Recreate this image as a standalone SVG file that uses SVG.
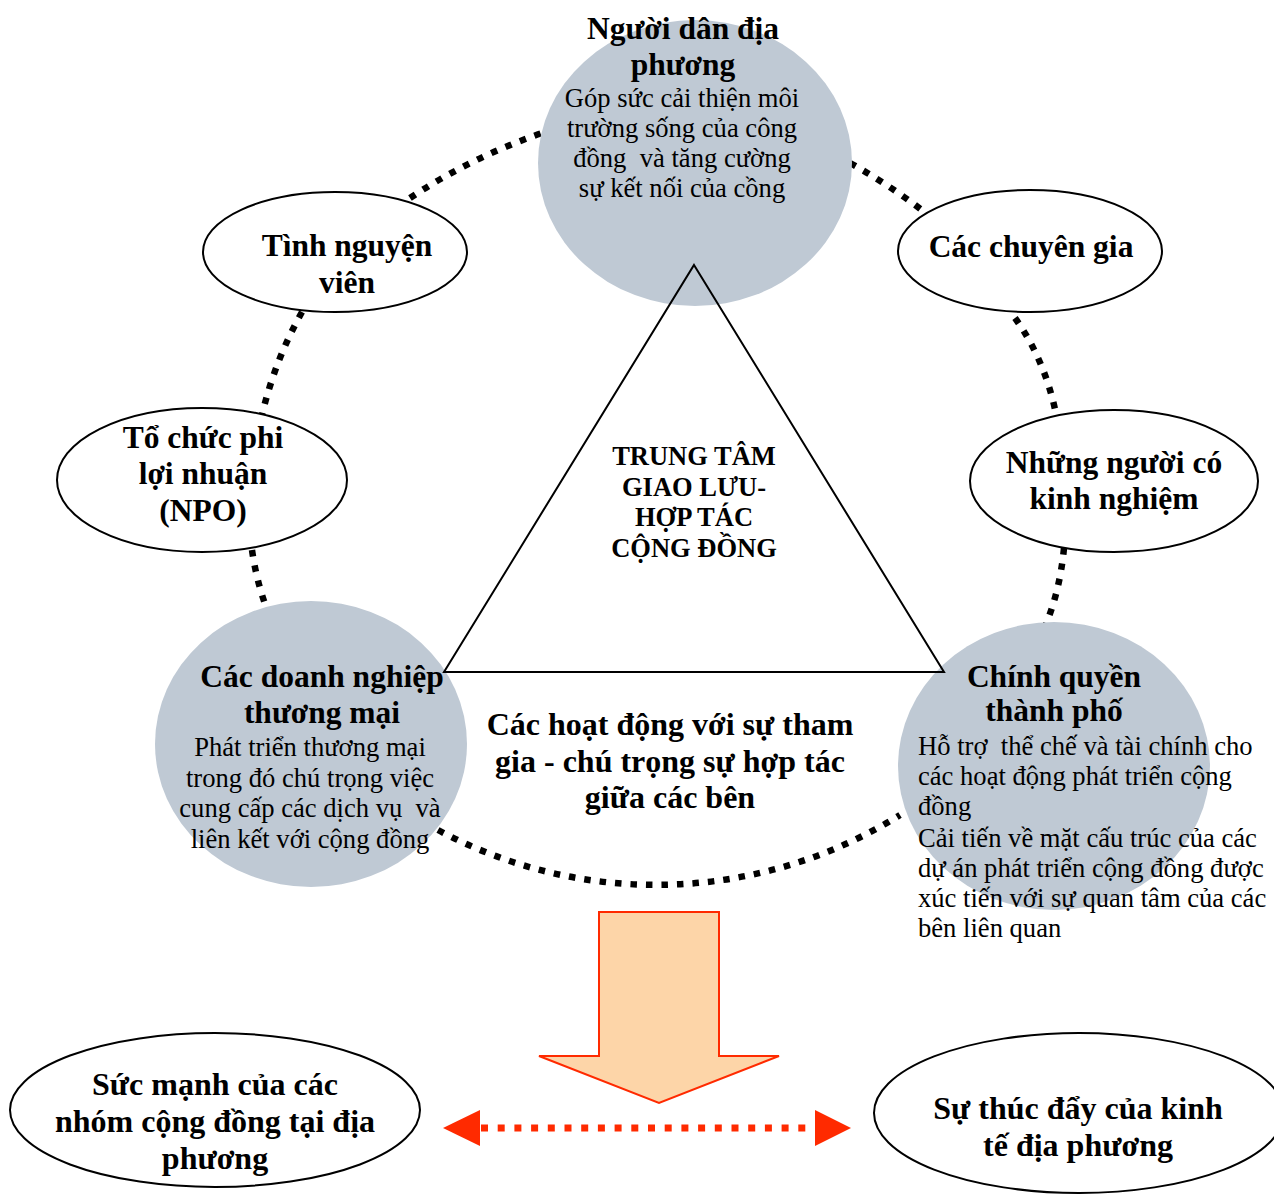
<svg xmlns="http://www.w3.org/2000/svg" width="1274" height="1196" viewBox="0 0 1274 1196">
<style>
text{font-family:"Liberation Serif","Times New Roman",serif;fill:#000;white-space:pre}
.t{font-size:31.5px;font-weight:bold;text-anchor:middle}
.h{font-size:32px}
.b{font-size:26.6px;text-anchor:middle}
.bl{font-size:26.6px}
.c{font-size:26.5px;font-weight:bold;text-anchor:middle}
.dot{fill:none;stroke:#000;stroke-width:6.5;stroke-dasharray:6.5 9}
.ell{fill:#fff;stroke:#000;stroke-width:2}
.gc{fill:#BFC9D4;stroke:none}
.red{fill:#FF2A00}
</style>
<rect width="1274" height="1196" fill="#fff"/>
<g id="connectors">
<path class="dot" d="M410,198 Q470,158 542,133"/>
<path class="dot" d="M850,163 Q888,184 923,211"/>
<path class="dot" d="M1015,318 Q1045,360 1056,414"/>
<path class="dot" d="M1064,548 Q1060,590 1046,624"/>
<path class="dot" d="M438,830 A461 461 0 0 0 900,815"/>
<path class="dot" d="M252,550 Q256,578 265,604"/>
<path class="dot" d="M302,312 Q275,360 262,415"/>
<path d="M481,1128 L814,1128" fill="none" stroke="#FF2A00" stroke-width="7" stroke-dasharray="7 9.7"/>
<polygon class="red" points="443,1128 480,1110 480,1146"/>
<polygon class="red" points="851,1128 815,1110 815,1146"/>
</g>
<g id="node-nguoidan">
<ellipse class="gc" cx="695" cy="163" rx="157" ry="143"/>
<text class="t" x="683" y="39">Người dân địa</text>
<text class="t" x="683" y="75">phương</text>
<text class="b" x="682" y="107">Góp sức cải thiện môi</text>
<text class="b" x="682" y="137">trường sống của công</text>
<text class="b" x="682" y="167">đồng  và tăng cường</text>
<text class="b" x="682" y="197">sự kết nối của cồng</text>
</g>
<g id="node-doanhnghiep">
<ellipse class="gc" cx="311" cy="744" rx="156" ry="143"/>
<text class="t" x="322" y="687">Các doanh nghiệp</text>
<text class="t" x="322" y="723">thương mại</text>
<text class="b" x="310" y="756">Phát triển thương mại</text>
<text class="b" x="310" y="787">trong đó chú trọng việc</text>
<text class="b" x="310" y="817">cung cấp các dịch vụ  và</text>
<text class="b" x="310" y="848">liên kết với cộng đồng</text>
</g>
<g id="node-chinhquyen">
<ellipse class="gc" cx="1054" cy="766" rx="156" ry="144"/>
<text class="t" x="1054" y="687">Chính quyền</text>
<text class="t" x="1054" y="721">thành phố</text>
<text class="bl" x="918" y="755">Hỗ trợ  thể chế và tài chính cho</text>
<text class="bl" x="918" y="785">các hoạt động phát triển cộng</text>
<text class="bl" x="918" y="815">đồng</text>
<text class="bl" x="918" y="847">Cải tiến về mặt cấu trúc của các</text>
<text class="bl" x="918" y="877">dự án phát triển cộng đồng được</text>
<text class="bl" x="918" y="907">xúc tiến với sự quan tâm của các</text>
<text class="bl" x="918" y="937">bên liên quan</text>
</g>
<g id="node-tinhnguyen">
<ellipse class="ell" cx="335" cy="252" rx="132" ry="60"/>
<text class="t" x="347" y="256">Tình nguyện</text>
<text class="t" x="347" y="293">viên</text>
</g>
<g id="node-chuyengia">
<ellipse class="ell" cx="1030" cy="251" rx="132" ry="61"/>
<text class="t" x="1031" y="257">Các chuyên gia</text>
</g>
<g id="node-npo">
<ellipse class="ell" cx="202" cy="480" rx="145" ry="72"/>
<text class="t" x="203" y="448">Tổ chức phi</text>
<text class="t" x="203" y="484">lợi nhuận</text>
<text class="t" x="203" y="521">(NPO)</text>
</g>
<g id="node-kinhnghiem">
<ellipse class="ell" cx="1114" cy="481" rx="144" ry="71"/>
<text class="t" x="1114" y="473">Những người có</text>
<text class="t" x="1114" y="509">kinh nghiệm</text>
</g>
<g id="node-trungtam">
<polygon points="694,265 944,672 444,672" fill="none" stroke="#000" stroke-width="2"/>
<text class="c" x="694" y="465">TRUNG TÂM</text>
<text class="c" x="694" y="496">GIAO LƯU-</text>
<text class="c" x="694" y="526">HỢP TÁC</text>
<text class="c" x="694" y="557">CỘNG ĐỒNG</text>
</g>
<g id="node-hoatdong">
<text class="t h" x="670" y="735">Các hoạt động với sự tham</text>
<text class="t h" x="670" y="772">gia - chú trọng sự hợp tác</text>
<text class="t h" x="670" y="808">giữa các bên</text>
</g>
<g id="node-arrow">
<polygon points="599,912 719,912 719,1056 779,1056 659,1103 539,1056 599,1056" fill="#FDD5A8" stroke="#FF2A00" stroke-width="2"/>
</g>
<g id="node-sucmanh">
<ellipse class="ell" cx="215" cy="1110" rx="205" ry="77"/>
<text class="t h" x="215" y="1095">Sức mạnh của các</text>
<text class="t h" x="215" y="1132">nhóm cộng đồng tại địa</text>
<text class="t h" x="215" y="1169">phương</text>
</g>
<g id="node-kinhte">
<ellipse class="ell" cx="1079" cy="1113" rx="205" ry="80"/>
<text class="t h" x="1078" y="1119">Sự thúc đẩy của kinh</text>
<text class="t h" x="1078" y="1156">tế địa phương</text>
</g>
</svg>
